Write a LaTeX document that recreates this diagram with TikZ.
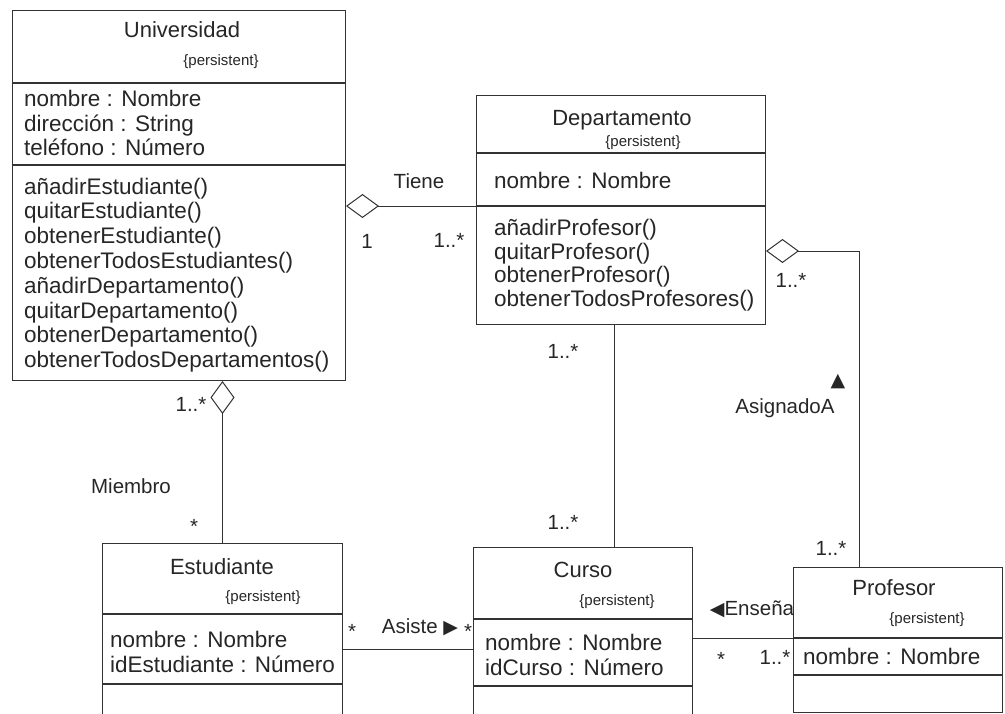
\documentclass[tikz,border=0pt]{standalone}
\usepackage{fontspec}
\setmainfont{Liberation Sans}
\newfontfamily\symfont{DejaVu Sans}
\usetikzlibrary{arrows.meta}

\begin{document}
\begin{tikzpicture}[
        x=1pt, y=-1pt,
        every node/.style={inner sep=0pt, text=black!85},
        comp/.style 2 args={draw=black!80, line width=1pt, anchor=north west,
            minimum width=#1, minimum height=#2},
        cname/.style={font=\fontsize{22}{24}\selectfont},
        tag/.style={font=\fontsize{15}{17}\selectfont},
        members/.style={anchor=west, align=left, font=\fontsize{22.5}{24.5}\selectfont},
        lab/.style={font=\fontsize{20.5}{22}\selectfont},
        tri/.style={font=\symfont\fontsize{19}{20}\selectfont},
        link/.style={draw=black!80, line width=1pt},
        aggr/.style={link, -{Diamond[open, length=33pt, width=24pt, line width=1pt]}}
    ]
    \clip (0,0) rectangle (1005,713);
    \useasboundingbox (0,0) rectangle (1005,713);

    % Universidad
    \node[comp={333}{72}] (uniT) at (12,10) {};
    \node[comp={333}{81}] (uniA) at (uniT.south west) {};
    \node[comp={333}{215}] (uniO) at (uniA.south west) {};
    \node[cname] (uniN) at (182,30) {Universidad};
    \node[tag] (uniP) at (221,62) {\{persistent\}};
    \node[members] (uniAt) at (24,123) {nombre : Nombre\\dirección : String\\teléfono : Número};
    \node[members, font=\fontsize{22.5}{24.8}\selectfont] (uniOp) at (24,275)
        {añadirEstudiante()\\quitarEstudiante()\\obtenerEstudiante()\\obtenerTodosEstudiantes()\\añadirDepartamento()\\quitarDepartamento()\\obtenerDepartamento()\\obtenerTodosDepartamentos()};

    % Departamento
    \node[comp={289}{57}] (deptT) at (476,95) {};
    \node[comp={289}{52}] (deptA) at (deptT.south west) {};
    \node[comp={289}{118}] (deptO) at (deptA.south west) {};
    \node[cname] (deptN) at (622,120) {Departamento};
    \node[tag] (deptP) at (643,143) {\{persistent\}};
    \node[members] (deptAt) at (494,180) {nombre : Nombre};
    \node[members, font=\fontsize{22.5}{23.5}\selectfont] (deptOp) at (494,265)
        {añadirProfesor()\\quitarProfesor()\\obtenerProfesor()\\obtenerTodosProfesores()};

    % Estudiante
    \node[comp={240}{70}] (estT) at (102,543) {};
    \node[comp={240}{69}] (estA) at (estT.south west) {};
    \node[comp={240}{60}] (estO) at (estA.south west) {};
    \node[cname] (estN) at (222,567) {Estudiante};
    \node[tag] (estP) at (263,598) {\{persistent\}};
    \node[members] (estAt) at (110,652) {nombre : Nombre\\idEstudiante : Número};

    % Curso
    \node[comp={219}{71}] (cursoT) at (473,547) {};
    \node[comp={219}{66}] (cursoA) at (cursoT.south west) {};
    \node[comp={219}{60}] (cursoO) at (cursoA.south west) {};
    \node[cname] (cursoN) at (583,570) {Curso};
    \node[tag] (cursoP) at (617,602) {\{persistent\}};
    \node[members] (cursoAt) at (485,655) {nombre : Nombre\\idCurso : Número};

    % Profesor
    \node[comp={209}{70}] (profT) at (793,567) {};
    \node[comp={209}{36}] (profA) at (profT.south west) {};
    \node[comp={209}{37}] (profO) at (profA.south west) {};
    \node[cname] (profN) at (894,588) {Profesor};
    \node[tag] (profP) at (927,620) {\{persistent\}};
    \node[members] (profAt) at (803,656) {nombre : Nombre};

    % associations
    \coordinate (dcLink) at (614,0);
    \coordinate (asigBend) at (859,251);
    \draw[aggr] (deptA.south west) -- (uniO.east |- deptA.south west);
    \draw[aggr] (estT.north) -- (uniO.south -| estT.north);
    \draw[link] (deptO.south -| dcLink) -- (cursoT.north -| dcLink);
    \draw[aggr] (profT.north -| asigBend) -- (asigBend) -- (deptO.east |- asigBend);
    \draw[link] (estA.east) -- (cursoA.west |- estA.east);
    \draw[link] (cursoA.east |- profA.north west) -- (profA.north west);

    % labels
    \node[lab] (tiene) at (419,181) {Tiene};
    \node[lab] (tieneU) at (367,241) {1};
    \node[lab] (tieneD) at (449,240) {1..*};
    \node[lab] (miemU) at (191,404) {1..*};
    \node[lab] (miembro) at (131,486) {Miembro};
    \node[lab] (miemE) at (194,526) {*};
    \node[lab] (dcD) at (563,351) {1..*};
    \node[lab] (dcC) at (563,522) {1..*};
    \node[lab] (asigD) at (791,280) {1..*};
    \node[tri] (asigTri) at (838,382) {▲};
    \node[lab] (asigA) at (785,408) {AsignadoA};
    \node[lab] (asigP) at (831,548) {1..*};
    \node[lab] (asisE) at (352,631) {*};
    \node[lab] (asiste) at (420,627) {Asiste {\symfont\fontsize{19}{20}\selectfont ▶}};
    \node[lab] (asisC) at (468,631) {*};
    \node[lab] (ensena) at (752,609) {{\symfont\fontsize{19}{20}\selectfont ◀}Enseña};
    \node[lab] (ensC) at (721,659) {*};
    \node[lab] (ensP) at (775,657) {1..*};
\end{tikzpicture}
\end{document}
